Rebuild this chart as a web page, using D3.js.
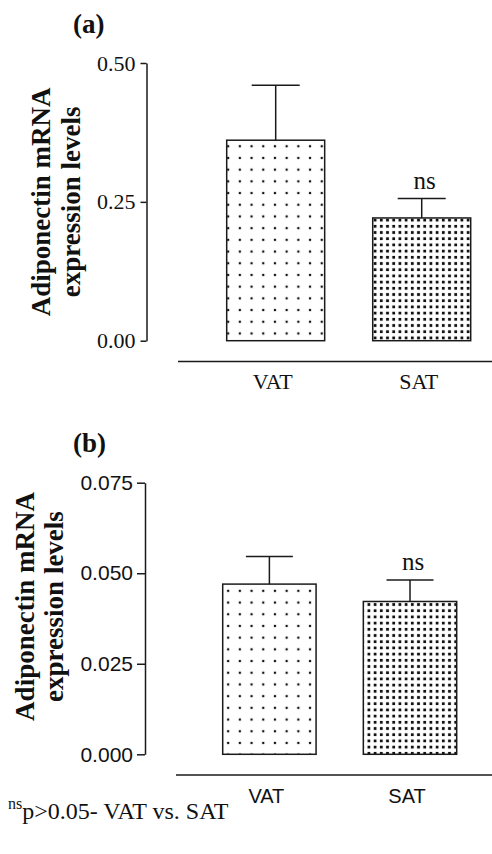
<!DOCTYPE html>
<html>
<head>
<meta charset="utf-8">
<script src="https://cdn.jsdelivr.net/npm/d3@7"></script>
<style>
  html, body { margin: 0; padding: 0; background: #fff; }
  svg { display: block; }
</style>
</head>
<body>
<svg id="chart" width="492" height="854"></svg>
<script>
// ---- data ----
const categories = ["VAT", "SAT"];
const meansA = [0.361, 0.221];
const errA = [0.099, 0.035];
const meansB = [0.047, 0.0422];
const errB = [0.0076, 0.0059];
const ticksA = [0, 0.25, 0.5];
const ticksB = [0, 0.025, 0.05, 0.075];
const sigLabels = ["", "ns"];
const yTitleLines = ["Adiponectin mRNA", "expression levels"];
const footnoteSup = "ns";
const footnoteText = "p>0.05- VAT vs. SAT";

const svg = d3.select("#chart");
const SERIF = "'Liberation Serif', 'Times New Roman', serif";
const SANS = "'Liberation Sans', Arial, sans-serif";
const INK = "#1a1a1a";

// patterns
const defs = svg.append("defs");
function dotPattern(id, step, size) {
  const p = defs.append("pattern").attr("id", id)
    .attr("patternUnits", "userSpaceOnUse")
    .attr("width", step).attr("height", step);
  p.append("rect").attr("width", step).attr("height", step).attr("fill", "#fff");
  p.append("rect").attr("x", (step - size) / 2).attr("y", (step - size) / 2)
    .attr("width", size).attr("height", size).attr("fill", "#111");
}
dotPattern("sparse", 11.7, 2.2);
dotPattern("dense", 6.2, 2.8);
const fills = ["url(#sparse)", "url(#dense)"];

function panel(cfg) {
  const g = svg.append("g");
  const x = d3.scaleBand().domain(categories)
    .range(cfg.xRange).paddingInner(cfg.padInner).paddingOuter(0);
  const y = d3.scaleLinear().domain([0, cfg.ticks[cfg.ticks.length - 1]])
    .range(cfg.yRange);

  // y axis
  const ax = g.append("g").attr("transform", `translate(${cfg.axisX},0)`)
    .call(d3.axisLeft(y).tickValues(cfg.ticks).tickFormat(d3.format(cfg.fmt))
      .tickSize(cfg.tickLen).tickSizeOuter(0).tickPadding(cfg.tickPad));
  ax.select(".domain").attr("stroke", INK).attr("stroke-width", 1.5);
  ax.selectAll(".tick line").attr("stroke", INK).attr("stroke-width", 1.5);
  ax.selectAll(".tick text").attr("font-family", cfg.tickFont)
    .attr("font-size", cfg.tickSize).attr("fill", "#111");

  // y title
  const yc = (cfg.yRange[0] + cfg.yRange[1]) / 2 + cfg.titleShift;
  yTitleLines.forEach((t, i) => {
    g.append("text")
      .attr("transform", `translate(${cfg.titleX[i]},${yc}) rotate(-90)`)
      .attr("text-anchor", "middle")
      .attr("font-family", SERIF).attr("font-weight", "bold")
      .attr("font-size", 27).attr("fill", "#111").text(t);
  });

  // panel label
  g.append("text").attr("x", 73).attr("y", cfg.labelY)
    .attr("font-family", SERIF).attr("font-weight", "bold")
    .attr("font-size", 27).attr("fill", "#111").text(cfg.label);

  // bars
  const data = categories.map((c, i) => ({ c, m: cfg.means[i], e: cfg.errs[i], i }));
  g.selectAll("rect.bar").data(data).join("rect").attr("class", "bar")
    .attr("x", d => x(d.c)).attr("width", x.bandwidth())
    .attr("y", d => y(d.m)).attr("height", d => y(0) - y(d.m))
    .attr("fill", d => fills[d.i]).attr("stroke", INK).attr("stroke-width", 1.5);

  // error bars (upper only)
  const cx = d => x(d.c) + x.bandwidth() / 2;
  g.selectAll("line.err").data(data).join("line").attr("class", "err")
    .attr("x1", cx).attr("x2", cx)
    .attr("y1", d => y(d.m)).attr("y2", d => y(d.m + d.e))
    .attr("stroke", INK).attr("stroke-width", 1.5);
  g.selectAll("line.cap").data(data).join("line").attr("class", "cap")
    .attr("x1", d => cx(d) - cfg.capHalf).attr("x2", d => cx(d) + cfg.capHalf)
    .attr("y1", d => y(d.m + d.e)).attr("y2", d => y(d.m + d.e))
    .attr("stroke", INK).attr("stroke-width", 1.5);

  // significance labels
  g.selectAll("text.sig").data(data).join("text").attr("class", "sig")
    .attr("x", d => cx(d) + 3).attr("y", d => y(d.m + d.e) - 10)
    .attr("text-anchor", "middle").attr("font-family", SERIF)
    .attr("font-size", 25).attr("fill", "#111")
    .text(d => sigLabels[d.i]);

  // baseline category axis
  g.append("line").attr("x1", cfg.baseX).attr("x2", 492)
    .attr("y1", cfg.baseY).attr("y2", cfg.baseY)
    .attr("stroke", INK).attr("stroke-width", 1.5);
  g.selectAll("text.cat").data(data).join("text").attr("class", "cat")
    .attr("x", d => cx(d) - 3).attr("y", cfg.catY)
    .attr("text-anchor", "middle").attr("font-family", cfg.tickFont)
    .attr("font-size", cfg.catSize).attr("fill", "#111").text(d => d.c);
}

panel({
  label: "(a)", labelY: 33,
  means: meansA, errs: errA, ticks: ticksA, fmt: ".2f",
  xRange: [226.7, 470.7], padInner: 0.329,
  yRange: [340.7, 63], axisX: 146.5, tickLen: 6, tickPad: 5,
  tickFont: SERIF, tickSize: 22, catSize: 22,
  titleX: [50, 80], titleShift: 0,
  capHalf: 24, baseX: 178, baseY: 361.5, catY: 389
});

panel({
  label: "(b)", labelY: 452,
  means: meansB, errs: errB, ticks: ticksB, fmt: ".3f",
  xRange: [222.7, 456.7], padInner: 0.336,
  yRange: [754.3, 482.7], axisX: 145, tickLen: 8, tickPad: 4,
  tickFont: SANS, tickSize: 21, catSize: 20,
  titleX: [34, 63], titleShift: -12,
  capHalf: 23.5, baseX: 176, baseY: 775, catY: 803
});

// footnote
const fn = svg.append("text").attr("x", 8).attr("y", 819)
  .attr("font-family", SERIF).attr("font-size", 24).attr("fill", "#111");
fn.append("tspan").attr("font-size", 16).attr("dy", -10).text(footnoteSup);
fn.append("tspan").attr("dy", 10).text(footnoteText);
</script>
</body>
</html>
